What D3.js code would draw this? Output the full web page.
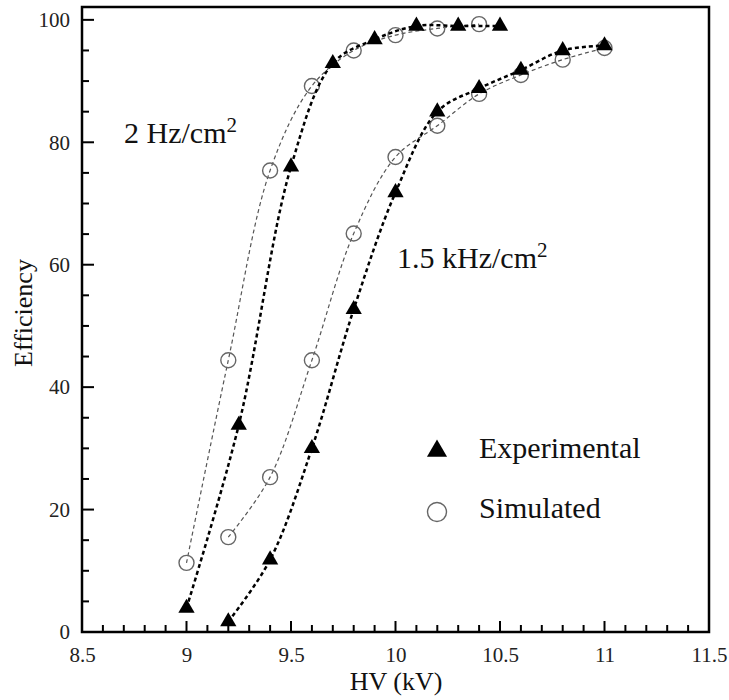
<!DOCTYPE html>
<html><head><meta charset="utf-8">
<script src="https://cdn.jsdelivr.net/npm/d3@7"></script>
<style>body{margin:0;background:#fff}svg{display:block}</style>
</head><body><svg id="c" width="729" height="700"></svg>
<script>
const exp2HzX = [9.0, 9.25, 9.5, 9.7, 9.9, 10.1, 10.3, 10.5];
const exp2HzY = [3.9, 33.8, 76, 92.9, 96.8, 99, 99, 99];
const sim2HzX = [9.0, 9.2, 9.4, 9.6, 9.8, 10.0, 10.2, 10.4];
const sim2HzY = [11.3, 44.4, 75.4, 89.2, 95, 97.5, 98.6, 99.3];
const exp15kX = [9.2, 9.4, 9.6, 9.8, 10.0, 10.2, 10.4, 10.6, 10.8, 11.0];
const exp15kY = [1.7, 11.8, 30, 52.7, 71.8, 85, 88.8, 91.8, 95, 95.8];
const sim15kX = [9.2, 9.4, 9.6, 9.8, 10.0, 10.2, 10.4, 10.6, 10.8, 11.0];
const sim15kY = [15.5, 25.3, 44.4, 65.1, 77.6, 82.7, 87.9, 91.0, 93.5, 95.4];
const xTicks = [8.5, 9, 9.5, 10, 10.5, 11, 11.5];
const yTicks = [0, 20, 40, 60, 80, 100];
const legendLabels = ["Experimental", "Simulated"];

const FONT = "'Liberation Serif', 'DejaVu Serif', serif";
const svg = d3.select("#c").attr("font-family", FONT);
const L = 82, R = 709, T = 7, B = 632;
const x = d3.scaleLinear().domain([8.5, 11.5]).range([L, R]);
const y = d3.scaleLinear().domain([0, 102.1]).range([B, T]);

const xMinor = d3.range(85, 116).map(d => d / 10).filter(d => !xTicks.some(t => Math.abs(t - d) < 1e-9));
const yMinor = d3.range(0, 101, 5).filter(d => d % 20 !== 0);

const xAxis = d3.axisBottom(x).tickValues(xTicks).tickSize(0).tickPadding(15).tickFormat(d => String(d));
const gx = svg.append("g").attr("transform", `translate(0,${B})`).call(xAxis).attr("font-family", FONT);
gx.select(".domain").remove();
gx.selectAll("text").attr("font-size", 21).attr("fill", "#222");

const yAxis = d3.axisLeft(y).tickValues(yTicks).tickSize(0).tickPadding(12).tickFormat(d => String(d));
const gy = svg.append("g").attr("transform", `translate(${L},0)`).call(yAxis).attr("font-family", FONT);
gy.select(".domain").remove();
gy.selectAll("text").attr("font-size", 21).attr("fill", "#222");

const tk = svg.append("g").attr("stroke", "#000").attr("stroke-width", 2);
xTicks.forEach(v => tk.append("line").attr("x1", x(v)).attr("x2", x(v)).attr("y1", B).attr("y2", B - 11));
xMinor.forEach(v => tk.append("line").attr("x1", x(v)).attr("x2", x(v)).attr("y1", B).attr("y2", B - 7));
yTicks.forEach(v => tk.append("line").attr("x1", L).attr("x2", L + 12).attr("y1", y(v)).attr("y2", y(v)));
yMinor.forEach(v => tk.append("line").attr("x1", L).attr("x2", L + 7).attr("y1", y(v)).attr("y2", y(v)));

svg.append("rect").attr("x", L).attr("y", T).attr("width", R - L).attr("height", B - T)
  .attr("fill", "none").attr("stroke", "#000").attr("stroke-width", 2.5);

const line = d3.line().x(d => x(d[0])).y(d => y(d[1])).curve(d3.curveCatmullRom.alpha(0.5));
const zip = (a, b) => a.map((v, i) => [v, b[i]]);

function simSeries(xs, ys) {
  const pts = zip(xs, ys);
  svg.append("path").attr("d", line(pts)).attr("fill", "none").attr("stroke", "#555")
    .attr("stroke-width", 1.2).attr("stroke-dasharray", "4,3");
  svg.selectAll(null).data(pts).enter().append("circle")
    .attr("cx", d => x(d[0])).attr("cy", d => y(d[1])).attr("r", 7.5)
    .attr("fill", "none").attr("stroke", "#666").attr("stroke-width", 1.4);
}
const tri = d3.symbol().type(d3.symbolTriangle).size(115);
function expSeries(xs, ys) {
  const pts = zip(xs, ys);
  svg.append("path").attr("d", line(pts)).attr("fill", "none").attr("stroke", "#000")
    .attr("stroke-width", 2.5).attr("stroke-dasharray", "4,3");
  svg.selectAll(null).data(pts).enter().append("path")
    .attr("d", tri).attr("transform", d => `translate(${x(d[0])},${y(d[1])})`).attr("fill", "#000");
}
simSeries(sim2HzX, sim2HzY);
simSeries(sim15kX, sim15kY);
expSeries(exp2HzX, exp2HzY);
expSeries(exp15kX, exp15kY);

function label(tx, ty, main) {
  const t = svg.append("text").attr("x", tx).attr("y", ty).attr("font-size", 30).attr("fill", "#111");
  t.append("tspan").text(main);
  t.append("tspan").attr("dy", -11).attr("font-size", 21).text("2");
}
label(124, 143, "2 Hz/cm");
label(397, 268, "1.5 kHz/cm");

svg.append("path").attr("d", d3.symbol().type(d3.symbolTriangle).size(175)).attr("transform", "translate(437,451)").attr("fill", "#000");
svg.append("circle").attr("cx", 437).attr("cy", 512).attr("r", 9.5).attr("fill", "none").attr("stroke", "#666").attr("stroke-width", 1.4);
svg.append("text").attr("x", 479).attr("y", 458).attr("font-size", 30).attr("fill", "#111").text(legendLabels[0]);
svg.append("text").attr("x", 479).attr("y", 518).attr("font-size", 30).attr("fill", "#111").text(legendLabels[1]);

svg.append("text").attr("x", 396).attr("y", 690).attr("text-anchor", "middle").attr("font-size", 26).attr("fill", "#111").text("HV (kV)");
svg.append("text").attr("transform", "translate(32,313) rotate(-90)").attr("text-anchor", "middle").attr("font-size", 26).attr("fill", "#111").text("Efficiency");
</script></body></html>
